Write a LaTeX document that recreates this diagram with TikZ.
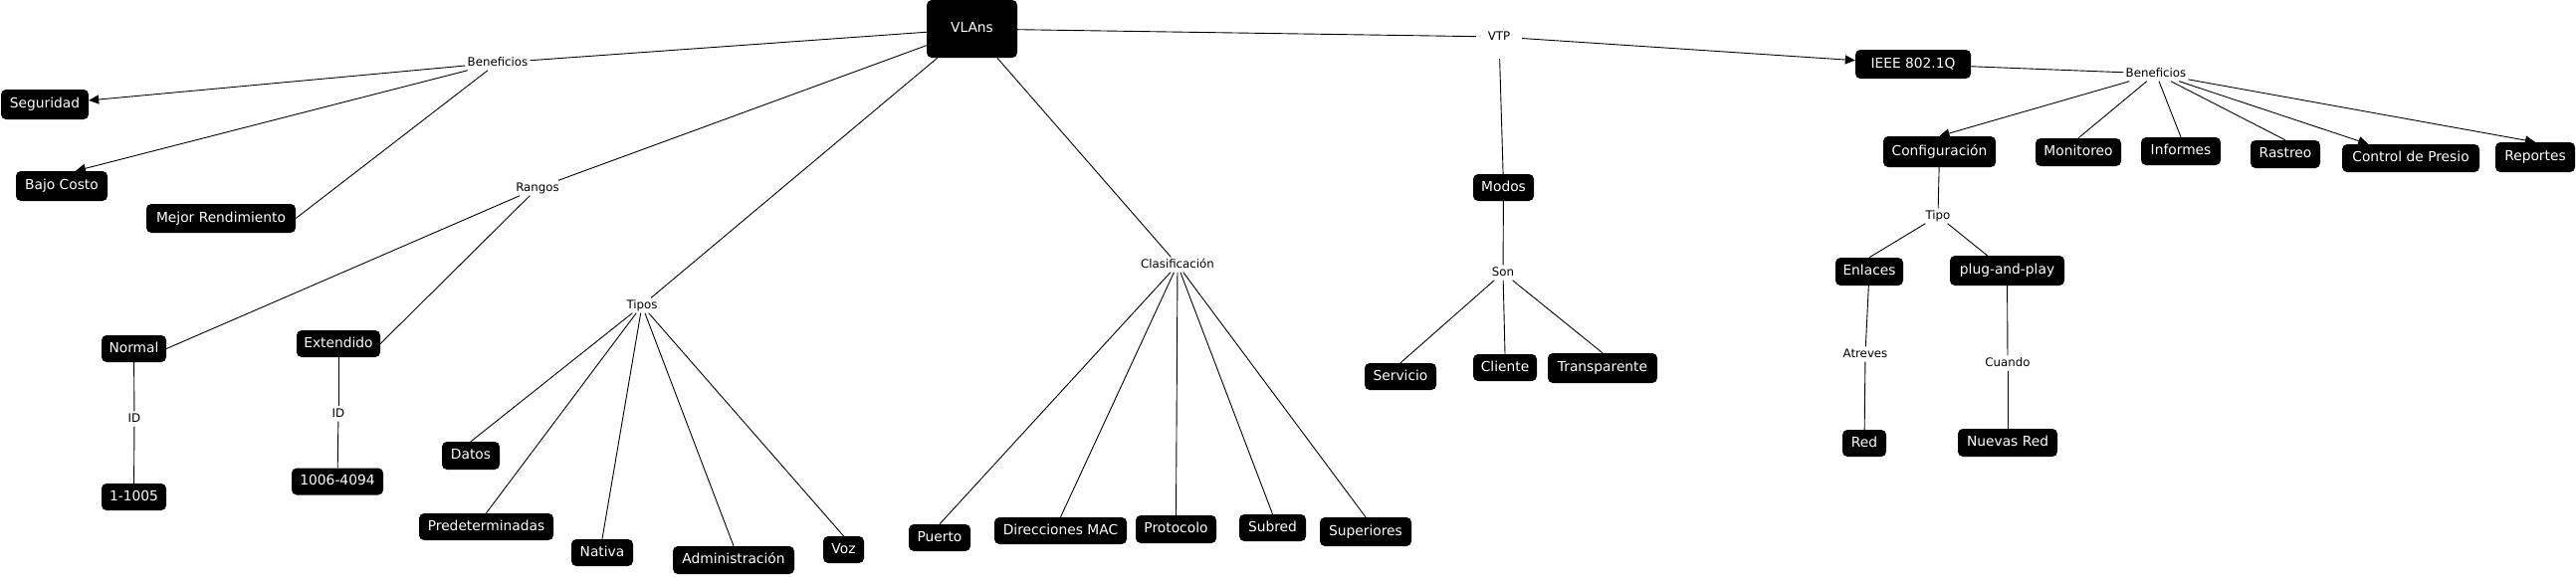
\documentclass[tikz,border=0pt]{standalone}
\usepackage{fontspec}
\setmainfont{DejaVu Sans}
\usetikzlibrary{arrows.meta}
\begin{document}
\begin{tikzpicture}[x=1pt,y=-1pt,
  concept/.style={fill=black, rounded corners=5pt, text=white,
    font=\fontsize{13.8}{16}\selectfont, inner xsep=3pt, inner ysep=0pt,
    minimum height=28pt, text height=10.5pt, text depth=3pt},
  link/.style={font=\fontsize{11.8}{14}\selectfont, inner sep=2pt,
    text height=8.5pt, text depth=2.5pt},
  conn/.style={line width=0.9pt, draw=black},
  arr/.style={conn, -{Triangle[length=10pt,width=9pt]}}]
\useasboundingbox (0,0) rectangle (2588,579);

% concepts
\node[concept, minimum width=91pt, minimum height=58pt] (vlans) at (976.5,29) {VLAns};
\node[concept, minimum width=88pt, minimum height=30pt] (seg) at (45,105) {Seguridad};
\node[concept, minimum width=92pt, minimum height=30pt] (bajo) at (62,187) {Bajo Costo};
\node[concept, minimum width=150pt, minimum height=29pt] (mejor) at (222,219.5) {Mejor Rendimiento};
\node[concept, minimum width=65pt, minimum height=27pt] (normal) at (134.5,350.5) {Normal};
\node[concept, minimum width=84pt, minimum height=27pt] (ext) at (340,345.5) {Extendido};
\node[concept, minimum width=65pt, minimum height=27pt] (r1) at (134.5,499.5) {1-1005};
\node[concept, minimum width=92pt, minimum height=27pt] (r2) at (339,484) {1006-4094};
\node[concept, minimum width=58pt] (datos) at (473,458) {Datos};
\node[concept, minimum width=135pt, minimum height=27pt] (predet) at (488.5,529.5) {Predeterminadas};
\node[concept, minimum width=62pt, minimum height=27pt] (nativa) at (605,555.5) {Nativa};
\node[concept, minimum width=122pt] (admin) at (737,563) {Administración};
\node[concept, minimum width=41pt, minimum height=27pt] (voz) at (847.5,552.5) {Voz};
\node[concept, minimum width=62pt, minimum height=27pt] (puerto) at (944,540.5) {Puerto};
\node[concept, minimum width=133pt, minimum height=27pt] (mac) at (1065.5,533.5) {Direcciones MAC};
\node[concept, minimum width=81pt] (proto) at (1181.5,532) {Protocolo};
\node[concept, minimum width=67pt, minimum height=27pt] (subred) at (1278.5,530.5) {Subred};
\node[concept, minimum width=92pt, minimum height=29pt] (sup) at (1372,534.5) {Superiores};
\node[concept, minimum width=61pt, minimum height=27pt] (modos) at (1510.5,188.5) {Modos};
\node[concept, minimum width=72pt, minimum height=27pt] (serv) at (1407,378.5) {Servicio};
\node[concept, minimum width=64pt, minimum height=27pt] (cliente) at (1512,369.5) {Cliente};
\node[concept, minimum width=110pt, minimum height=30pt] (transp) at (1610,370) {Transparente};
\node[concept, minimum width=116pt, minimum height=29pt] (ieee) at (1922,64.5) {IEEE 802.1Q};
\node[concept, minimum width=113pt, minimum height=31pt] (config) at (1948.5,152.5) {Configuración};
\node[concept, minimum width=86pt] (monit) at (2088,153) {Monitoreo};
\node[concept, minimum width=80pt] (inform) at (2191,152) {Informes};
\node[concept, minimum width=70pt] (rastreo) at (2296,155) {Rastreo};
\node[concept, minimum width=138pt] (control) at (2422,159) {Control de Presio};
\node[concept, minimum width=80pt, minimum height=30pt] (report) at (2547,158) {Reportes};
\node[concept, minimum width=68pt] (enlaces) at (1878,273) {Enlaces};
\node[concept, minimum width=115pt, minimum height=30pt] (pnp) at (2016.5,272) {plug-and-play};
\node[concept, minimum width=44pt, minimum height=27pt] (red) at (1873,445.5) {Red};
\node[concept, minimum width=100pt] (nuevas) at (2017,445) {Nuevas Red};

% linking phrases
\node[link] (ben1) at (500,63) {Beneficios};
\node[link] (rangos) at (540,189) {Rangos};
\node[link] (tipos) at (645,307) {Tipos};
\node[link] (clasif) at (1183,266) {Clasificación};
\node[link, minimum width=46pt, minimum height=44pt, inner sep=0pt] (vtp) at (1506,37) {VTP};
\node[link] (son) at (1510,274) {Son};
\node[link] (id1) at (135,421) {ID};
\node[link] (id2) at (340,416) {ID};
\node[link] (ben2) at (2166,74) {Beneficios};
\node[link] (tipo) at (1947,217) {Tipo};
\node[link] (atreves) at (1874,356) {Atreves};
\node[link] (cuando) at (2017,365) {Cuando};

% connectors
\draw[conn] (vlans) -- (ben1);
\draw[arr] (ben1) -- (seg);
\draw[arr] (ben1) -- ([xshift=14pt]bajo.north);
\draw[conn] (ben1) -- (mejor.east);

\draw[conn] (vlans) -- (rangos);
\draw[conn] (rangos) -- (normal.east);
\draw[conn] (rangos) -- (ext.east);
\draw[conn] (normal) -- (id1);
\draw[conn] (id1) -- (r1);
\draw[conn] (ext) -- (id2);
\draw[conn] (id2) -- (r2);

\draw[conn] (vlans) -- (tipos);
\foreach \n in {datos,predet,nativa,admin,voz}
  \draw[conn] (tipos) -- (\n.north);

\draw[conn] (vlans) -- (clasif);
\foreach \n in {puerto,mac,proto,subred,sup}
  \draw[conn] (clasif) -- (\n.north);

\draw[conn] (vlans) -- (vtp);
\draw[conn] (vtp) -- (modos);
\draw[conn] (modos) -- (son);
\foreach \n in {serv,cliente,transp}
  \draw[conn] (son) -- (\n.north);

\draw[arr] (vtp) -- (ieee);
\draw[conn] (ieee) -- (ben2);
\draw[arr] (ben2) -- (config.north);
\draw[conn] (ben2) -- (monit.north);
\draw[conn] (ben2) -- (inform.north);
\draw[conn] (ben2) -- (rastreo.north);
\draw[arr] (ben2) -- (control);
\draw[arr] (ben2) -- (report.north);

\draw[conn] (config) -- (tipo);
\draw[conn] (tipo) -- (enlaces.north);
\draw[conn] (tipo) -- ([xshift=-20pt]pnp.north);
\draw[conn] (enlaces) -- (atreves);
\draw[conn] (atreves) -- (red);
\draw[conn] (pnp) -- (cuando);
\draw[conn] (cuando) -- (nuevas);
\end{tikzpicture}
\end{document}
